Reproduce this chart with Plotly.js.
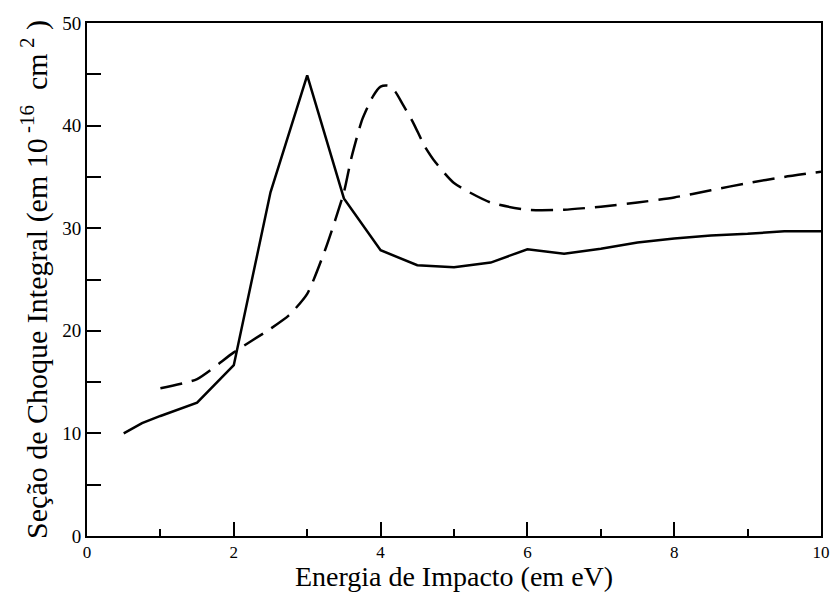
<!DOCTYPE html>
<html>
<head>
<meta charset="utf-8">
<script src="https://cdn.plot.ly/plotly-3.0.1.min.js"></script>
<style>html,body{margin:0;padding:0;background:#fff}#chart{width:834px;height:592px}</style>
</head>
<body>
<div id="chart"></div>
<script>
// Solid curve
var solidX = [0.5, 0.75, 1.0, 1.5, 2.0, 2.5, 3.0, 3.5, 4.0, 4.5, 5.0, 5.5, 6.0, 6.5, 7.0, 7.5, 8.0, 8.5, 9.0, 9.5, 10.0];
var solidY = [10.0, 11.0, 11.7, 13.0, 16.65, 33.5, 44.9, 32.9, 27.85, 26.4, 26.2, 26.65, 27.95, 27.5, 28.0, 28.6, 29.0, 29.3, 29.45, 29.7, 29.7];
// Dashed curve
var dashX = [1.0, 1.5, 2.0, 2.5, 2.75, 3.0, 3.25, 3.5, 3.6, 3.75, 3.9, 4.0, 4.1, 4.2, 4.3, 4.45, 4.6, 4.75, 5.0, 5.5, 6.0, 6.5, 7.0, 7.5, 8.0, 8.5, 9.0, 9.5, 10.0];
var dashY = [14.4, 15.3, 17.9, 20.2, 21.5, 23.6, 28.0, 33.5, 36.8, 40.6, 42.9, 43.8, 43.9, 43.3, 42.1, 40.2, 38.0, 36.4, 34.4, 32.5, 31.8, 31.8, 32.1, 32.5, 33.0, 33.7, 34.4, 35.0, 35.5];

var xTitle = 'Energia de Impacto (em eV)';
var yTitle = 'Seção de Choque Integral (em 10<sup> -16</sup>  cm<sup> 2</sup> )';

var traces = [
  {x: solidX, y: solidY, mode: 'lines', line: {color: '#000', width: 2.5}, showlegend: false, hoverinfo: 'skip'},
  {x: dashX, y: dashY, mode: 'lines', line: {color: '#000', width: 2.5, dash: '22px,10px', shape: 'spline', smoothing: 0.6}, showlegend: false, hoverinfo: 'skip'}
];

var fontFam = 'Liberation Serif';
var layout = {
  width: 834, height: 592,
  margin: {l: 87, r: 13, t: 23, b: 56},
  paper_bgcolor: '#fff', plot_bgcolor: '#fff',
  font: {family: fontFam, color: '#000'},
  xaxis: {
    range: [0, 10], dtick: 2, tick0: 0,
    ticks: 'inside', ticklen: 14, tickwidth: 2, tickcolor: '#000',
    minor: {dtick: 1, ticks: 'inside', ticklen: 7, tickwidth: 2, tickcolor: '#000'},
    showline: true, linewidth: 2, linecolor: '#000', mirror: true,
    showgrid: false, zeroline: false,
    tickfont: {size: 17, family: fontFam, color: '#000'},
    title: {text: xTitle, font: {size: 28, family: fontFam, color: '#000'}, standoff: 0}
  },
  yaxis: {
    range: [0, 50], dtick: 10, tick0: 0,
    ticks: 'inside', ticklen: 14, tickwidth: 2, tickcolor: '#000',
    minor: {dtick: 5, ticks: 'inside', ticklen: 14, tickwidth: 2, tickcolor: '#000'},
    showline: true, linewidth: 2, linecolor: '#000', mirror: true,
    showgrid: false, zeroline: false,
    tickfont: {size: 19, family: fontFam, color: '#000'},
    title: {text: yTitle, font: {size: 30, family: fontFam, color: '#000'}, standoff: 6}
  }
};

Plotly.newPlot('chart', traces, layout, {displayModeBar: false, staticPlot: true});
</script>
</body>
</html>
